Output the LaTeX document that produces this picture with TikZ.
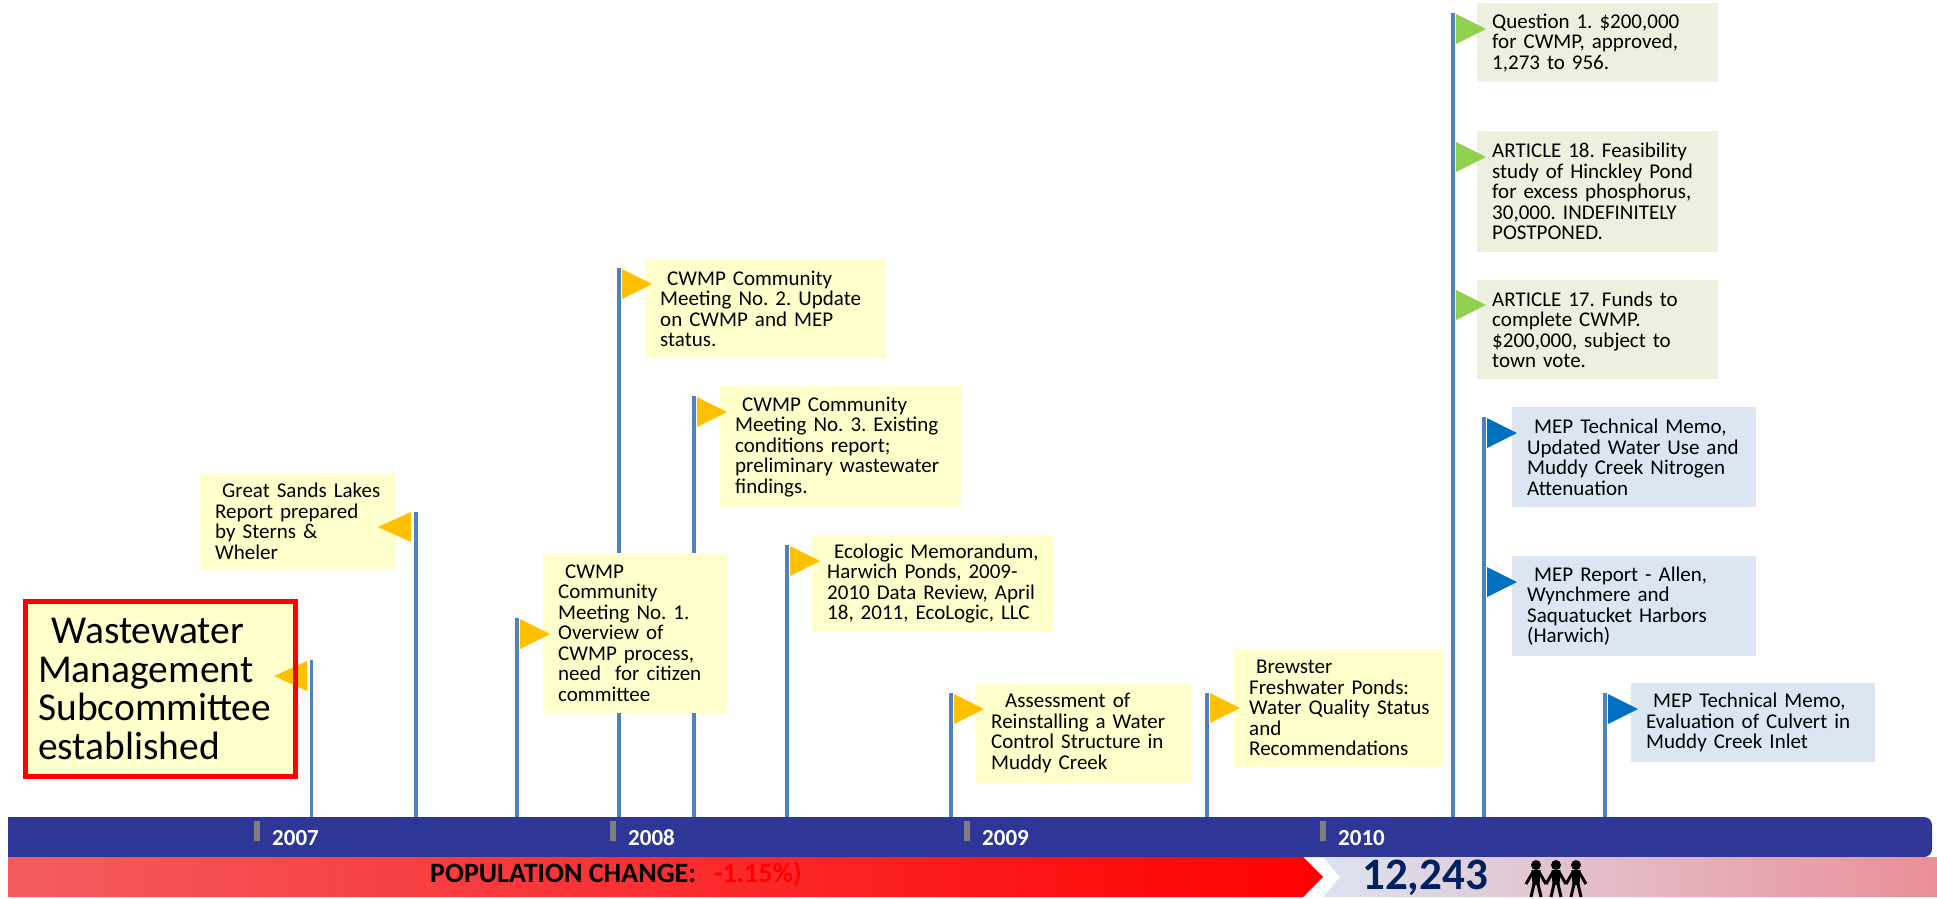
\documentclass[tikz,border=0pt]{standalone}
\usepackage{fontspec}
\setmainfont{Carlito}
\usepackage{tikz}
\usetikzlibrary{calc}

\definecolor{boxyellow}{HTML}{FFFFCC}
\definecolor{boxgreen}{HTML}{EBF1DE}
\definecolor{boxblue}{HTML}{DCE6F2}
\definecolor{flagyellow}{HTML}{FFC000}
\definecolor{flaggreen}{HTML}{92D050}
\definecolor{flagblue}{HTML}{0070C0}
\definecolor{polecol}{HTML}{4F81BD}
\definecolor{axisblue}{HTML}{2E3798}
\definecolor{tickgray}{HTML}{7F7F7F}
\definecolor{countnavy}{HTML}{002060}
\definecolor{poppink}{HTML}{EE8A90}
\definecolor{popred}{HTML}{FF0000}
\definecolor{lightlav}{HTML}{DDE3F1}
\definecolor{pinkend}{HTML}{EB8E96}

\pgfdeclarehorizontalshading{popshade}{100bp}{color(0bp)=(poppink); color(75bp)=(popred); color(100bp)=(popred)}

\frenchspacing

\begin{document}
\begin{tikzpicture}[
        x=1pt, y=-1pt,
        pole/.style={polecol, line width=3.5pt},
        evt/.style={anchor=north west, align=left, inner sep=0pt,
            font=\fontsize{21}{20.5}\selectfont,
            execute at begin node={\leftskip=15pt}},
        yearlbl/.style={anchor=base west, inner sep=0pt, text=white,
            font=\bfseries\fontsize{23}{23}\selectfont}
    ]
        \useasboundingbox (0,0) rectangle (1937,898);

        % --- Poles of the timeline ---
        \coordinate (axistop) at (0,817);
        \foreach \name/\x/\y in {ww/311.5/660, gs/416/512, mtg1/517/618, mtg2/619/268,
                mtg3/694/396, eco/787/545, assess/951/693, brew/1207/693,
                town/1453/13, mepa/1484/417, mepc/1605/693}{
            \coordinate (pole-\name) at (\x,\y);
            \draw[pole] (pole-\name) -- (pole-\name |- axistop);
        }

        % --- Event boxes ---
        \node[anchor=north west, align=left, inner sep=0pt, fill=boxyellow,
            text width=270.5pt, minimum height=175pt,
            font=\fontsize{39.5}{38.5}\selectfont,
            execute at begin node={\leftskip=13pt}] (ww) at (25,601.5)
            {\ Wastewater\\Management\\Subcommittee\\established};
        \node[evt, fill=boxyellow, text width=196pt, minimum height=96pt] (gslakes) at (200,473)
            {\ Great Sands Lakes\\Report prepared\\by Sterns \&\\Wheler};
        \node[evt, fill=boxyellow, text width=185pt, minimum height=160pt] (cwmp1) at (543,553)
            {\ CWMP\\Community\\Meeting No. 1.\\Overview of\\CWMP process,\\need\ \ for citizen\\committee};
        \node[evt, fill=boxyellow, text width=241pt, minimum height=99pt] (cwmp2) at (645,259)
            {\ CWMP Community\\Meeting No. 2. Update\\on CWMP and MEP\\status.};
        \node[evt, fill=boxyellow, text width=241pt, minimum height=121pt] (cwmp3) at (720,386)
            {\ CWMP Community\\Meeting No. 3. Existing\\conditions report;\\preliminary wastewater\\findings.};
        \node[evt, fill=boxyellow, text width=241pt, minimum height=97pt] (ecologic) at (812,535)
            {\ Ecologic Memorandum,\\Harwich Ponds, 2009-\\2010 Data Review, April\\18, 2011, EcoLogic, LLC};
        \node[evt, fill=boxyellow, text width=216pt, minimum height=100pt] (assess) at (976,683)
            {\ \ Assessment of\\Reinstalling a Water\\Control Structure in\\Muddy Creek};
        \node[evt, fill=boxyellow, text width=209pt, minimum height=118pt] (brewster) at (1234,649)
            {\ Brewster\\Freshwater Ponds:\\Water Quality Status\\and\\Recommendations};

        % town meeting votes
        \node[evt, fill=boxgreen, text width=241pt, minimum height=79pt] (question1) at (1477,3)
            {Question 1. \$200,000\\for CWMP, approved,\\1,273 to 956.};
        \node[evt, fill=boxgreen, text width=241pt, minimum height=121pt] (art18) at (1477,131)
            {ARTICLE 18. Feasibility\\study of Hinckley Pond\\for excess phosphorus,\\30,000. INDEFINITELY\\POSTPONED.};
        \node[evt, fill=boxgreen, text width=241pt, minimum height=99pt] (art17) at (1477,280)
            {ARTICLE 17. Funds to\\complete CWMP.\\\$200,000, subject to\\town vote.};

        % MEP reports
        \node[evt, fill=boxblue, text width=244pt, minimum height=100pt] (mepmemo1) at (1512,407)
            {\ MEP Technical Memo,\\Updated Water Use and\\Muddy Creek Nitrogen\\Attenuation};
        \node[evt, fill=boxblue, text width=244pt, minimum height=100pt] (mepreport) at (1512,556)
            {\ MEP Report - Allen,\\Wynchmere and\\Saquatucket Harbors\\(Harwich)};
        \node[evt, fill=boxblue, text width=244pt, minimum height=79pt] (mepmemo2) at (1631,683)
            {\ MEP Technical Memo,\\Evaluation of Culvert in\\Muddy Creek Inlet};

        % --- Flags ---
        \foreach \x/\y/\col in {520/619/flagyellow, 622/269/flagyellow, 697/397/flagyellow,
                790/546/flagyellow, 954/694/flagyellow, 1210/693/flagyellow,
                1456/14/flaggreen, 1456/142/flaggreen, 1456/290/flaggreen,
                1487/418/flagblue, 1487/567/flagblue, 1608/694/flagblue}
            \fill[\col] (\x,\y) -- ++(30,15) -- ++(-30,15) -- cycle;
        \foreach \x/\y in {307/661, 411/512}
            \fill[flagyellow] (\x,\y) -- ++(-33,15) -- ++(33,15) -- cycle;

        % red frame in front of the flag
        \draw[red, line width=5pt] (ww.north west) rectangle (ww.south east);

        % --- Time axis ---
        \fill[axisblue] (8,817) [rounded corners=8pt] -- (1932,817) -- (1932,857)
            [sharp corners] -- (8,857) -- cycle;
        \foreach \yr/\x in {2007/257, 2008/613, 2009/967, 2010/1323}{
            \fill[tickgray] (\x-3,821) rectangle (\x+3,841);
            \node[yearlbl] (yr\yr) at (\x+15,845) {\yr};
        }

        % --- Population band ---
        \shade[shading=popshade] (8,857) -- (1303,857) -- (1323,877) -- (1303,897) -- (8,897) -- cycle;
        \shade[left color=lightlav, right color=pinkend]
            (1323,857) -- (1937,857) -- (1937,897) -- (1323,897) -- (1340,877) -- cycle;
        \node[anchor=base west, inner sep=0pt, font=\bfseries\fontsize{28}{28}\selectfont]
            (popchange) at (430,882) {POPULATION CHANGE:\hspace{18pt}\textcolor{red}{-1.15\%)}};
        \node[anchor=base west, inner sep=0pt, text=countnavy, font=\bfseries\fontsize{45}{45}\selectfont]
            (popcount) at (1362,889) {12,243};

        % people icon
        \foreach \cx in {1536,1556,1576}{
            \fill (\cx,865) circle (5);
            \fill (\cx-4.5,870) -- (\cx+4.5,870) -- (\cx+3.5,885) -- (\cx-3.5,885) -- cycle;
            \draw[line width=3pt] (\cx-2,884) -- (\cx-5,897) (\cx+2,884) -- (\cx+5,897);
            \draw[line width=3pt] (\cx-3,872) -- (\cx-10,884) (\cx+3,872) -- (\cx+10,884);
        }

    \end{tikzpicture}
\end{document}
